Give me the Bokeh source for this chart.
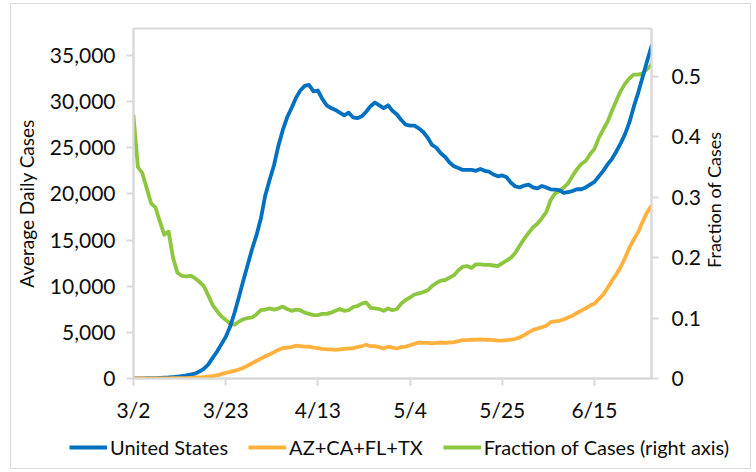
import math
import pandas as pd
from bokeh.plotting import figure
from bokeh.layouts import column
from bokeh.models import (Range1d, LinearAxis, FixedTicker, NumeralTickFormatter,
                          Legend, LegendItem, ColumnDataSource)
from bokeh.embed import file_html
from bokeh.resources import INLINE

# ---------------- data ----------------
dates = pd.date_range("2020-03-02", "2020-06-28", freq="D")

us_cases = [
    10, 15, 20, 30, 40, 50, 65, 85, 110, 150,
    200, 260, 330, 420, 520, 750, 1050, 1500, 2200, 2900,
    3700, 4500, 5600, 7100, 8800, 10600, 12300, 14000, 15500, 17300,
    19800, 21500, 23100, 25200, 26900, 28300, 29300, 30400, 31200, 31700,
    31800, 31100, 31200, 30300, 29600, 29300, 29100, 28800, 28500, 28800,
    28300, 28200, 28400, 28900, 29500, 29900, 29600, 29300, 29600, 29000,
    28600, 28000, 27500, 27400, 27400, 27100, 26700, 26100, 25300, 25000,
    24400, 24000, 23400, 23000, 22800, 22600, 22600, 22600, 22500, 22700,
    22500, 22400, 22100, 21900, 22000, 21800, 21200, 20800, 20700, 20900,
    21000, 20700, 20600, 20850, 20700, 20500, 20450, 20400, 20100, 20200,
    20300, 20500, 20500, 20700, 21000, 21300, 21900, 22500, 23200, 23800,
    24600, 25500, 26500, 27800, 29500, 31000, 32700, 34400, 36000,
]

four_states = [
    0, 0, 0, 5, 5, 10, 10, 15, 20, 25,
    30, 40, 50, 60, 80, 110, 150, 200, 250, 330,
    480, 600, 720, 830, 980, 1150, 1400, 1650, 1900, 2150,
    2400, 2600, 2850, 3100, 3300, 3350, 3400, 3550, 3500, 3450,
    3450, 3350, 3300, 3200, 3150, 3150, 3100, 3150, 3200, 3250,
    3300, 3400, 3500, 3650, 3500, 3500, 3400, 3250, 3450, 3350,
    3250, 3400, 3450, 3600, 3750, 3900, 3850, 3850, 3800, 3850,
    3900, 3850, 3900, 3950, 4050, 4150, 4150, 4200, 4200, 4250,
    4200, 4200, 4150, 4100, 4100, 4150, 4200, 4300, 4450, 4700,
    5000, 5250, 5400, 5550, 5700, 6100, 6200, 6250, 6400, 6600,
    6800, 7100, 7350, 7600, 7900, 8100, 8600, 9100, 9800, 10600,
    11300, 12100, 13100, 14200, 15100, 15900, 17000, 18000, 18700,
]

fraction = [
    0.435, 0.350, 0.340, 0.315, 0.290, 0.283, 0.260, 0.238, 0.243, 0.200,
    0.175, 0.170, 0.169, 0.170, 0.166, 0.160, 0.153, 0.138, 0.122, 0.112,
    0.103, 0.097, 0.091, 0.089, 0.094, 0.098, 0.100, 0.101, 0.106, 0.113,
    0.114, 0.116, 0.114, 0.116, 0.119, 0.115, 0.112, 0.114, 0.113, 0.109,
    0.107, 0.105, 0.105, 0.107, 0.107, 0.109, 0.112, 0.115, 0.112, 0.113,
    0.118, 0.120, 0.124, 0.126, 0.117, 0.116, 0.115, 0.112, 0.116, 0.113,
    0.115, 0.124, 0.130, 0.134, 0.139, 0.141, 0.143, 0.146, 0.153, 0.158,
    0.162, 0.163, 0.167, 0.171, 0.179, 0.185, 0.186, 0.183, 0.189, 0.189,
    0.188, 0.188, 0.187, 0.186, 0.191, 0.195, 0.200, 0.208, 0.220, 0.231,
    0.241, 0.250, 0.256, 0.265, 0.275, 0.295, 0.306, 0.310, 0.316, 0.323,
    0.335, 0.346, 0.355, 0.360, 0.371, 0.380, 0.398, 0.412, 0.425, 0.443,
    0.460, 0.476, 0.488, 0.497, 0.503, 0.503, 0.505, 0.512, 0.519,
]

series_names = ["United States", "AZ+CA+FL+TX", "Fraction of Cases (right axis)"]
left_axis_title = "Average Daily Cases"
right_axis_title = "Fraction of Cases"
x_tick_dates = ["2020-03-02", "2020-03-23", "2020-04-13", "2020-05-04", "2020-05-25", "2020-06-15"]
x_tick_labels = ["3/2", "3/23", "4/13", "5/4", "5/25", "6/15"]
left_ticks = [0, 5000, 10000, 15000, 20000, 25000, 30000, 35000]
right_ticks = [0, 0.1, 0.2, 0.3, 0.4, 0.5]
right_tick_labels = ["0", "0.1", "0.2", "0.3", "0.4", "0.5"]

# ---------------- style ----------------
FONT = "Lato"
TXT = "#0d0d0d"
GRAY = "#D9D9D9"
BLUE = "#0070C0"
ORANGE = "#FFB13D"
GREEN = "#8DC63F"
LW = 3.8

src = ColumnDataSource(dict(date=dates, us=us_cases, st=four_states, fr=fraction))

p = figure(width=739, height=420, x_axis_type="datetime",
           output_backend="svg", toolbar_location=None,
           x_range=Range1d(dates[0], dates[-1]),
           y_range=Range1d(0, 37917),
           min_border_left=121, min_border_right=99,
           min_border_top=24, min_border_bottom=45)
p.extra_y_ranges = {"frac": Range1d(0, 0.5792)}
p.xgrid.visible = False
p.ygrid.visible = False
p.outline_line_color = GRAY
p.outline_line_width = 2
p.background_fill_color = "white"
p.border_fill_color = "white"

r_fr = p.line("date", "fr", source=src, y_range_name="frac", color=GREEN,
              line_width=LW, line_join="round", line_cap="round")
r_us = p.line("date", "us", source=src, color=BLUE, line_width=LW,
              line_join="round", line_cap="round")
r_st = p.line("date", "st", source=src, color=ORANGE, line_width=LW,
              line_join="round", line_cap="round")

right_axis = LinearAxis(y_range_name="frac")
p.add_layout(right_axis, "right")


def style_axis(ax):
    ax.axis_line_color = GRAY
    ax.axis_line_width = 2
    ax.major_tick_line_color = GRAY
    ax.major_tick_line_width = 2
    ax.major_tick_out = 7
    ax.major_tick_in = 0
    ax.minor_tick_out = 0
    ax.minor_tick_in = 0
    ax.major_label_text_font = FONT
    ax.major_label_text_font_size = "21px"
    ax.major_label_text_color = TXT
    ax.axis_label_text_font = FONT
    ax.axis_label_text_font_size = "19px"
    ax.axis_label_text_font_style = "normal"
    ax.axis_label_text_color = TXT


# x axis
xa = p.xaxis[0]
style_axis(xa)
tick_ms = [pd.Timestamp(d).value / 1e6 for d in x_tick_dates]
xa.ticker = FixedTicker(ticks=tick_ms)
xa.major_label_overrides = {t: lab for t, lab in zip(tick_ms, x_tick_labels)}
xa.major_label_standoff = 11

# left axis
ya = p.yaxis[0]
style_axis(ya)
ya.ticker = FixedTicker(ticks=left_ticks)
ya.formatter = NumeralTickFormatter(format="0,0")
ya.axis_label = left_axis_title
ya.major_label_standoff = 11
ya.axis_label_standoff = 9

# right axis
style_axis(right_axis)
right_axis.ticker = FixedTicker(ticks=right_ticks)
right_axis.major_label_overrides = {t: lab for t, lab in zip(right_ticks, right_tick_labels)}
right_axis.axis_label_text_font_size = "18px"
right_axis.major_label_standoff = 13
right_axis.axis_label_standoff = 10
if hasattr(right_axis, "axis_label_orientation") and hasattr(right_axis, "axis_label_align"):
    # read bottom-to-top, anchored at the axis start; non-breaking spaces lift the
    # visible text to the reference position
    right_axis.axis_label_orientation = math.pi / 2
    right_axis.axis_label_align = "start"
    right_axis.axis_label = "\u00a0" * 24 + right_axis_title
else:
    right_axis.axis_label = right_axis_title

# ---------------- legend strip (separate figure, lines kept out of view) ----------------
leg = figure(width=739, height=44, output_backend="svg", toolbar_location=None,
             x_axis_type="datetime", x_axis_location=None, y_axis_location=None,
             x_range=Range1d(dates[0], dates[-1]), y_range=Range1d(-3, -2),
             min_border=0, min_border_left=0, min_border_right=0,
             min_border_top=0, min_border_bottom=0)
if hasattr(leg, "frame_align"):
    leg.frame_align = False
leg.xgrid.visible = False
leg.ygrid.visible = False
leg.outline_line_color = None
leg.background_fill_color = "white"
leg.border_fill_color = "white"
l_us = leg.line("date", "us", source=src, color=BLUE, line_width=LW)
l_st = leg.line("date", "st", source=src, color=ORANGE, line_width=LW)
l_fr = leg.line("date", "fr", source=src, color=GREEN, line_width=LW)

legend = Legend(items=[LegendItem(label=series_names[0], renderers=[l_us]),
                       LegendItem(label=series_names[1], renderers=[l_st]),
                       LegendItem(label=series_names[2], renderers=[l_fr])],
                orientation="horizontal", location=(58, 9),
                border_line_color=None, background_fill_alpha=0,
                label_text_font=FONT, label_text_font_size="20px",
                label_text_color=TXT, glyph_width=38, label_standoff=3,
                spacing=20, padding=2, margin=0)
leg.add_layout(legend, "center")

layout = column(p, leg, spacing=0,
                styles={"margin-left": "11px", "margin-top": "4px",
                        "outline": "1px solid #D9D9D9"})

open("out.html", "w").write(file_html(layout, INLINE))
